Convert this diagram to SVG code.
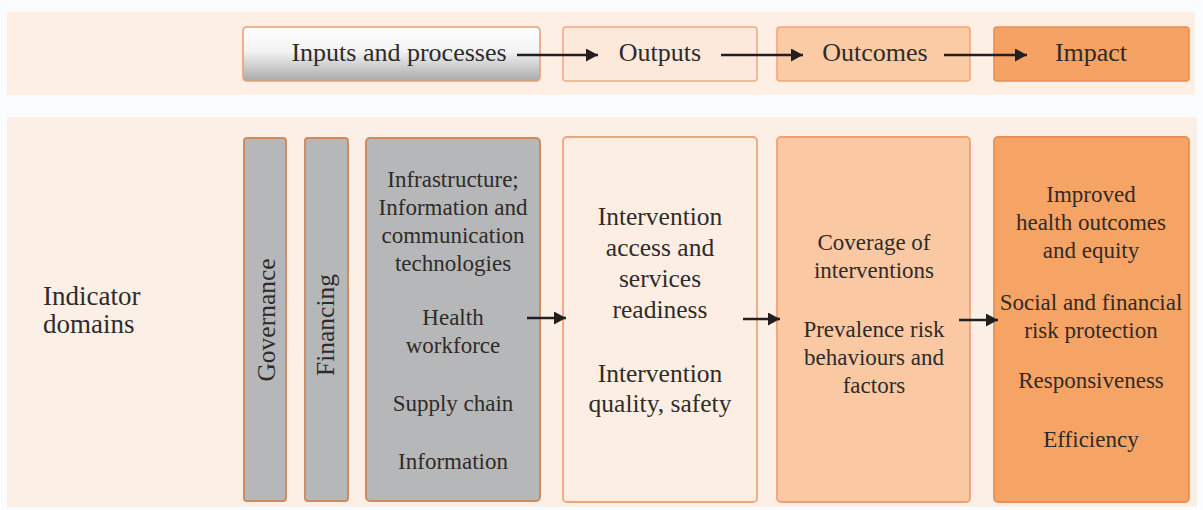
<svg xmlns="http://www.w3.org/2000/svg" width="1203" height="510" viewBox="0 0 1203 510">
<style>
  text { font-family: "Liberation Serif", "Times New Roman", serif; fill: #2f2b29; text-anchor: middle; }
  .top { font-size: 26px; }
  .body { font-size: 23px; }
  .iv { font-size: 25.5px; }
  .side { font-size: 27px; text-anchor: start; }
  .vert { font-size: 25.5px; }
  .grey { fill: #b6b7b8; stroke: #cf8c63; stroke-width: 2; }
  .conn line { stroke: #231f20; stroke-width: 2.4; }
</style>
<defs>
  <linearGradient id="gIn" x1="0" y1="0" x2="0" y2="1">
    <stop offset="0" stop-color="#ffffff"/>
    <stop offset="0.45" stop-color="#f3f3f4"/>
    <stop offset="1" stop-color="#a9a9aa"/>
  </linearGradient>
  <marker id="ah" markerUnits="userSpaceOnUse" markerWidth="14" markerHeight="14" refX="12" refY="6.5" orient="auto">
    <path d="M0,0 L12,6.5 L0,13 Z" fill="#231f20"/>
  </marker>
</defs>
<rect width="1203" height="510" fill="#fbfcfd"/>
<rect id="bandTop" x="7" y="12" width="1188" height="83" fill="#fdefe4"/>
<rect id="bandBottom" x="7" y="117" width="1190" height="390" fill="#fcefe6"/>

<g id="top-inputs">
  <rect x="243" y="27" width="297" height="54" rx="4" fill="url(#gIn)" stroke="#e4a07a" stroke-width="1.6"/>
  <text class="top" x="399" y="61">Inputs and processes</text>
</g>
<g id="top-outputs">
  <rect x="563" y="27" width="194" height="54" rx="3" fill="#fde9dc" stroke="#efab82" stroke-width="1.6"/>
  <text class="top" x="660" y="61">Outputs</text>
</g>
<g id="top-outcomes">
  <rect x="777" y="27" width="193" height="54" rx="3" fill="#fbcba6" stroke="#f1a67a" stroke-width="1.6"/>
  <text class="top" x="875" y="61">Outcomes</text>
</g>
<g id="top-impact">
  <rect x="994" y="27" width="195" height="54" rx="3" fill="#f5a264" stroke="#e98f55" stroke-width="1.6"/>
  <text class="top" x="1091" y="61">Impact</text>
</g>

<g id="indicator-domains">
  <text class="side" x="43" y="305">Indicator</text>
  <text class="side" x="43" y="333">domains</text>
</g>

<g id="governance">
  <rect class="grey" x="244" y="138" width="42" height="363" rx="3"/>
  <text class="vert" transform="translate(275,320) rotate(-90)">Governance</text>
</g>
<g id="financing">
  <rect class="grey" x="305" y="138" width="43" height="363" rx="3"/>
  <text class="vert" transform="translate(334,325) rotate(-90)">Financing</text>
</g>
<g id="inputs-domains">
  <rect class="grey" x="366" y="138" width="174" height="363" rx="4"/>
  <text class="body" x="453" y="187">Infrastructure;</text>
  <text class="body" x="453" y="215">Information and</text>
  <text class="body" x="453" y="243">communication</text>
  <text class="body" x="453" y="271">technologies</text>
  <text class="body" x="453" y="325">Health</text>
  <text class="body" x="453" y="353">workforce</text>
  <text class="body" x="453" y="411">Supply chain</text>
  <text class="body" x="453" y="469">Information</text>
</g>
<g id="outputs-domains">
  <rect x="563" y="137" width="194" height="365" rx="4" fill="#fdeee3" stroke="#efa57c" stroke-width="1.8"/>
  <text class="iv" x="660" y="225">Intervention</text>
  <text class="iv" x="660" y="256">access and</text>
  <text class="iv" x="660" y="287">services</text>
  <text class="iv" x="660" y="318">readiness</text>
  <text class="iv" x="660" y="382">Intervention</text>
  <text class="iv" x="660" y="412">quality, safety</text>
</g>
<g id="outcomes-domains">
  <rect x="777" y="137" width="193" height="365" rx="4" fill="#fac9a3" stroke="#efa172" stroke-width="1.8"/>
  <text class="body" x="874" y="250">Coverage of</text>
  <text class="body" x="874" y="278">interventions</text>
  <text class="body" x="874" y="337">Prevalence risk</text>
  <text class="body" x="874" y="365">behaviours and</text>
  <text class="body" x="874" y="393">factors</text>
</g>
<g id="impact-domains">
  <rect x="994" y="137" width="195" height="365" rx="4" fill="#f6a466" stroke="#ea9052" stroke-width="1.8"/>
  <text class="body" x="1091" y="202">Improved</text>
  <text class="body" x="1091" y="230">health outcomes</text>
  <text class="body" x="1091" y="258">and equity</text>
  <text class="body" x="1091" y="310">Social and financial</text>
  <text class="body" x="1091" y="338">risk protection</text>
  <text class="body" x="1091" y="388">Responsiveness</text>
  <text class="body" x="1091" y="447">Efficiency</text>
</g>

<g id="connectors" class="conn">
  <line x1="517" y1="55" x2="598" y2="55" marker-end="url(#ah)"/>
  <line x1="721" y1="55" x2="803" y2="55" marker-end="url(#ah)"/>
  <line x1="944" y1="55" x2="1027" y2="55" marker-end="url(#ah)"/>
  <line x1="527" y1="318" x2="566" y2="318" marker-end="url(#ah)"/>
  <line x1="743" y1="319" x2="780" y2="319" marker-end="url(#ah)"/>
  <line x1="959" y1="320" x2="998" y2="320" marker-end="url(#ah)"/>
</g>
</svg>
